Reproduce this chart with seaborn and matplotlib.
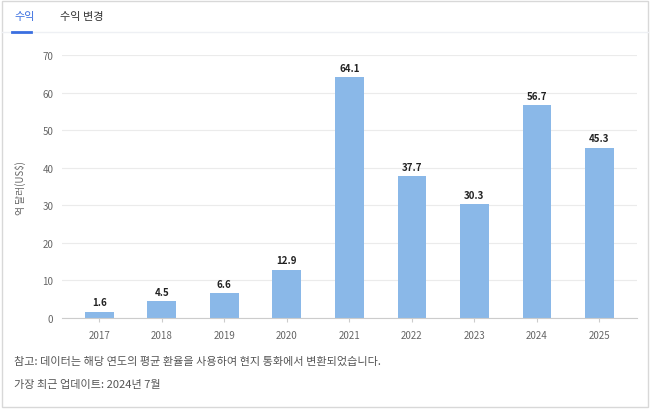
import matplotlib
matplotlib.use("Agg")
import matplotlib.pyplot as plt
import seaborn as sns
import pandas as pd
from matplotlib.patches import Rectangle
from matplotlib.lines import Line2D

years = ["2017", "2018", "2019", "2020", "2021", "2022", "2023", "2024", "2025"]
revenue = [1.6, 4.5, 6.6, 12.9, 64.1, 37.7, 30.3, 56.7, 45.3]
yticks = [0, 10, 20, 30, 40, 50, 60, 70]

plt.rcParams["font.family"] = ["Noto Sans CJK KR", "Noto Sans CJK JP", "Noto Sans CJK SC",
                               "Noto Sans CJK TC", "DejaVu Sans"]
df = pd.DataFrame({"year": years, "revenue": revenue})

fig = plt.figure(figsize=(6.5, 4.1), dpi=100)
ax = fig.add_axes([0.095, 0.222, 0.885, 0.641])
sns.barplot(data=df, x="year", y="revenue", color="#8ab8e8", saturation=1, width=0.46, ax=ax)
for p, v in zip(ax.patches, revenue):
    ax.text(p.get_x() + p.get_width() / 2, v + 1.2, f"{v}", ha="center", va="bottom",
            fontsize=7, fontweight="bold", color="#222222")
ax.set_ylim(0, 70)
ax.set_yticks(yticks)
ax.set_xlim(-0.6, 8.6)
ax.grid(axis="y", color="#ebebeb", linewidth=0.8)
ax.set_axisbelow(True)
for s in ["top", "right", "left"]:
    ax.spines[s].set_visible(False)
ax.spines["bottom"].set_color("#cccccc")
ax.tick_params(axis="both", length=0, labelsize=7, colors="#666666", pad=6)
ax.tick_params(axis="x", length=3, color="#cccccc")
ax.set_xlabel("")
ax.set_ylabel("억 달러(US$)", fontsize=7, color="#666666", labelpad=12)

fig.patches.append(Rectangle((0.003, 0.005), 0.994, 0.99, transform=fig.transFigure,
                             fill=False, edgecolor="#d8d8d8", linewidth=1))
fig.lines.append(Line2D([0.003, 0.997], [1 - 33 / 410] * 2, transform=fig.transFigure,
                        color="#eef0f4", linewidth=1))
fig.lines.append(Line2D([12 / 650, 26 / 650 + 0.008], [1 - 33 / 410] * 2, transform=fig.transFigure,
                        color="#3b6fe0", linewidth=2))
fig.text(14 / 650, 1 - 17 / 410, "수익", fontsize=8, color="#3b6fe0", va="center")
fig.text(60 / 650, 1 - 17 / 410, "수익 변경", fontsize=8, color="#333333", va="center")
fig.text(14 / 650, 1 - 362 / 410, "참고: 데이터는 해당 연도의 평균 환율을 사용하여 현지 통화에서 변환되었습니다.",
         fontsize=8, color="#555555", va="center")
fig.text(14 / 650, 1 - 385 / 410, "가장 최근 업데이트: 2024년 7월", fontsize=8, color="#555555", va="center")

fig.savefig("out.png", dpi=100)
